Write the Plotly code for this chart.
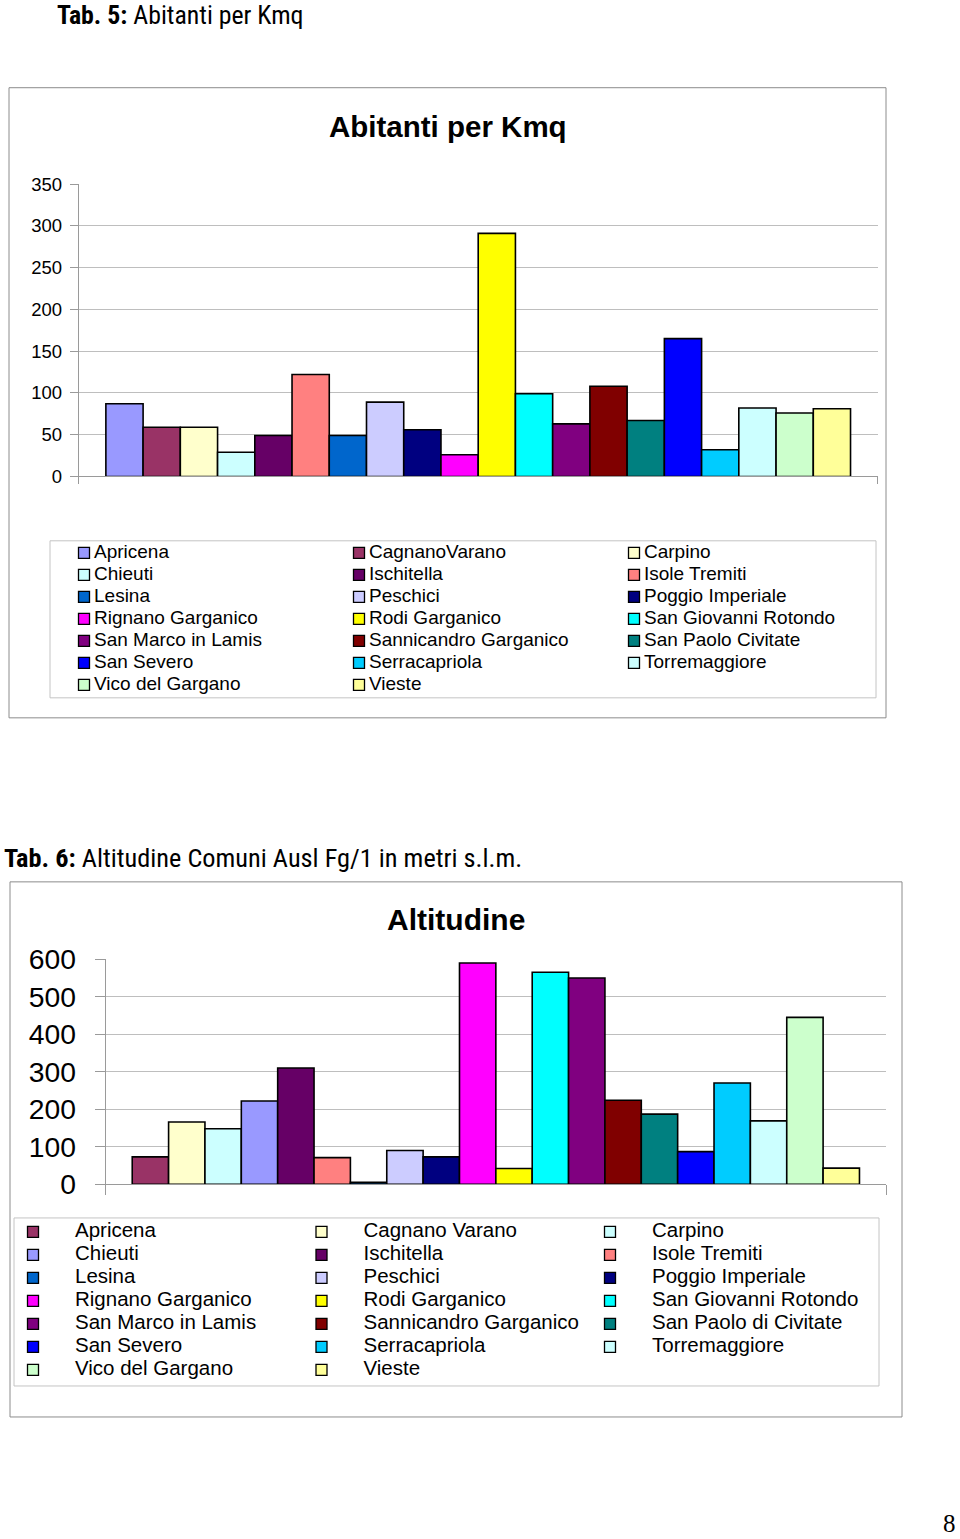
import plotly.graph_objects as go

W, H = 960, 1539

# ---------------- data ----------------
comuni_kmq = ["Apricena", "CagnanoVarano", "Carpino", "Chieuti", "Ischitella",
              "Isole Tremiti", "Lesina", "Peschici", "Poggio Imperiale",
              "Rignano Garganico", "Rodi Garganico", "San Giovanni Rotondo",
              "San Marco in Lamis", "Sannicandro Garganico", "San Paolo Civitate",
              "San Severo", "Serracapriola", "Torremaggiore", "Vico del Gargano", "Vieste"]
abitanti_kmq = [87, 59, 59, 29, 49, 122, 49, 89, 56, 26,
                291, 99, 63, 108, 67, 165, 32, 82, 76, 81]
colori_kmq = ["#9999FF", "#993366", "#FFFFCC", "#CCFFFF", "#660066",
              "#FF8080", "#0066CC", "#CCCCFF", "#000080", "#FF00FF",
              "#FFFF00", "#00FFFF", "#800080", "#800000", "#008080",
              "#0000FF", "#00CCFF", "#CCFFFF", "#CCFFCC", "#FFFF99"]

comuni_alt = ["Apricena", "Cagnano Varano", "Carpino", "Chieuti", "Ischitella",
              "Isole Tremiti", "Lesina", "Peschici", "Poggio Imperiale",
              "Rignano Garganico", "Rodi Garganico", "San Giovanni Rotondo",
              "San Marco in Lamis", "Sannicandro Garganico", "San Paolo di Civitate",
              "San Severo", "Serracapriola", "Torremaggiore", "Vico del Gargano", "Vieste"]
altitudine = [73, 166, 148, 222, 310, 71, 5, 90, 73, 590,
              42, 565, 550, 224, 187, 87, 270, 169, 445, 43]
colori_alt = ["#993366", "#FFFFCC", "#CCFFFF", "#9999FF", "#660066",
              "#FF8080", "#0066CC", "#CCCCFF", "#000080", "#FF00FF",
              "#FFFF00", "#00FFFF", "#800080", "#800000", "#008080",
              "#0000FF", "#00CCFF", "#CCFFFF", "#CCFFCC", "#FFFF99"]

tick_kmq = [0, 50, 100, 150, 200, 250, 300, 350]
tick_alt = [0, 100, 200, 300, 400, 500, 600]

# ---------------- helpers (layout only) ----------------
# the page is photographed with the figure occupying a band of the window;
# map page pixels to paper fractions of that band
TOP, SPAN = 16.3, 1506.7


def fx(p):
    return p / W


def fy(p):
    return 1 - (p - TOP) / SPAN


SANS = "Liberation Sans, Arial, Helvetica, sans-serif"
NARROW = "Liberation Sans Narrow, Arial Narrow, Roboto Condensed, sans-serif"

fig = go.Figure()

for nome, v, c in zip(comuni_kmq, abitanti_kmq, colori_kmq):
    fig.add_trace(go.Bar(x=["Abitanti per Kmq"], y=[v], name=nome,
                         marker=dict(color=c, line=dict(color="#000000", width=1.6)),
                         xaxis="x", yaxis="y", showlegend=False))

for nome, v, c in zip(comuni_alt, altitudine, colori_alt):
    fig.add_trace(go.Bar(x=["Altitudine"], y=[v], name=nome,
                         marker=dict(color=c, line=dict(color="#000000", width=1.6)),
                         xaxis="x2", yaxis="y2", showlegend=False))

NCOL = 3


def add_legend_grid(names, colors, xa, ya, text_dx, fsize, msize):
    cols = [i % NCOL for i in range(len(names))]
    rows = [i // NCOL for i in range(len(names))]
    fig.add_trace(go.Scatter(x=cols, y=rows, mode="markers",
                             marker=dict(symbol="square", size=msize, color=colors,
                                         line=dict(color="#000000", width=1.3)),
                             xaxis=xa, yaxis=ya, showlegend=False,
                             hoverinfo="skip", cliponaxis=False))
    fig.add_trace(go.Scatter(x=[c + text_dx for c in cols], y=rows, mode="text",
                             text=names, textposition="middle right",
                             textfont=dict(family=SANS, size=fsize, color="#000000"),
                             xaxis=xa, yaxis=ya, showlegend=False,
                             hoverinfo="skip", cliponaxis=False))


# legend geometry (pixels)
L1 = dict(x0=50, x1=876, y0=541, y1=698, mx=84, colw=275, tx=94, ry=553, rowh=22)
L2 = dict(x0=14, x1=879, y0=1218, y1=1386, mx=33, colw=288.5, tx=75, ry=1232, rowh=23)

add_legend_grid(comuni_kmq, colori_kmq, "x3", "y3", (L1["tx"] - L1["mx"]) / L1["colw"], 19, 11)
add_legend_grid(comuni_alt, colori_alt, "x4", "y4", (L2["tx"] - L2["mx"]) / L2["colw"], 20.5, 11)


def leg_axes(L):
    xr = [(L["x0"] - L["mx"]) / L["colw"], (L["x1"] - L["mx"]) / L["colw"]]
    yr = [(L["y1"] - L["ry"]) / L["rowh"], (L["y0"] - L["ry"]) / L["rowh"]]
    xa = dict(domain=[fx(L["x0"]), fx(L["x1"])], range=xr, visible=False, fixedrange=True)
    ya = dict(domain=[fy(L["y1"]), fy(L["y0"])], range=yr, visible=False, fixedrange=True)
    return xa, ya


xa3, ya3 = leg_axes(L1)
xa4, ya4 = leg_axes(L2)
xa3["anchor"] = "y3"; ya3["anchor"] = "x3"
xa4["anchor"] = "y4"; ya4["anchor"] = "x4"

GRID = "#BEBEBE"
AXL = "#9A9A9A"

fig.update_layout(
    width=W, height=H, autosize=False,
    margin=dict(l=0, r=0, t=0, b=0),
    paper_bgcolor="white", plot_bgcolor="white",
    barmode="group", bargap=0.068, bargroupgap=0,
    showlegend=False,
    xaxis=dict(domain=[fx(78.7), fx(877.7)], anchor="y", type="category",
               showticklabels=False, showline=True, linecolor=AXL, linewidth=1,
               ticks="outside", tickson="boundaries", ticklen=7, tickcolor=AXL,
               showgrid=False, fixedrange=True),
    yaxis=dict(domain=[fy(476.7), fy(184.3)], anchor="x", range=[0, 350],
               tickvals=tick_kmq, showgrid=True, gridcolor=GRID, gridwidth=1,
               zeroline=False, showline=True, linecolor=AXL, linewidth=1,
               ticks="outside", ticklen=8, tickcolor=AXL, ticklabelstandoff=4,
               tickfont=dict(family=SANS, size=18.5, color="#000000"), fixedrange=True),
    xaxis2=dict(domain=[fx(105.7), fx(886)], anchor="y2", type="category",
                showticklabels=False, showline=True, linecolor=AXL, linewidth=1,
                ticks="outside", tickson="boundaries", ticklen=10, tickcolor=AXL,
                showgrid=False, fixedrange=True),
    yaxis2=dict(domain=[fy(1184.3), fy(959.3)], anchor="x2", range=[0, 600],
                tickvals=tick_alt, showgrid=True, gridcolor=GRID, gridwidth=1,
                zeroline=False, showline=True, linecolor=AXL, linewidth=1,
                ticks="outside", ticklen=10, tickcolor=AXL, ticklabelstandoff=13,
                tickfont=dict(family=SANS, size=28.3, color="#000000"), fixedrange=True),
    xaxis3=xa3, yaxis3=ya3, xaxis4=xa4, yaxis4=ya4,
)

# frames
frames = [
    (9, 88, 886, 718, "#8C8C8C"),
    (50, 541, 876, 698, "#C4C4C4"),
    (10, 882, 902, 1417, "#8C8C8C"),
    (14, 1218, 879, 1386, "#C4C4C4"),
]
for x0, y0, x1, y1, col in frames:
    fig.add_shape(type="rect", xref="paper", yref="paper",
                  x0=fx(x0), x1=fx(x1), y0=fy(y1), y1=fy(y0),
                  line=dict(color=col, width=1), fillcolor="rgba(0,0,0,0)", layer="below")

ann = [
    dict(x=fx(55), y=fy(15), xanchor="left", yanchor="middle",
         text="<b>Tab. 5:</b> Abitanti per Kmq",
         font=dict(family=NARROW, size=25.8, color="#000000")),
    dict(x=fx(2), y=fy(858), xanchor="left", yanchor="middle",
         text="<b>Tab. 6:</b> Altitudine Comuni Ausl Fg/1 in metri s.l.m.",
         font=dict(family=NARROW, size=26.3, color="#000000")),
    dict(x=fx(448), y=fy(127), xanchor="center", yanchor="middle",
         text="<b>Abitanti per Kmq</b>",
         font=dict(family=SANS, size=29.5, color="#000000")),
    dict(x=fx(456), y=fy(920), xanchor="center", yanchor="middle",
         text="<b>Altitudine</b>",
         font=dict(family=SANS, size=30, color="#000000")),
    dict(x=fx(949), y=fy(1523), xanchor="center", yanchor="middle",
         text="8",
         font=dict(family="Liberation Serif, Times New Roman, serif", size=25, color="#000000")),
]
for a in ann:
    fig.add_annotation(xref="paper", yref="paper", showarrow=False, **a)

fig.write_html(
    "out.html",
    config={"displayModeBar": False, "responsive": False},
    post_script=("document.body.style.margin='0px';"
                 "document.querySelectorAll('svg.main-svg').forEach(function(s){s.style.overflow='visible';});"),
)
